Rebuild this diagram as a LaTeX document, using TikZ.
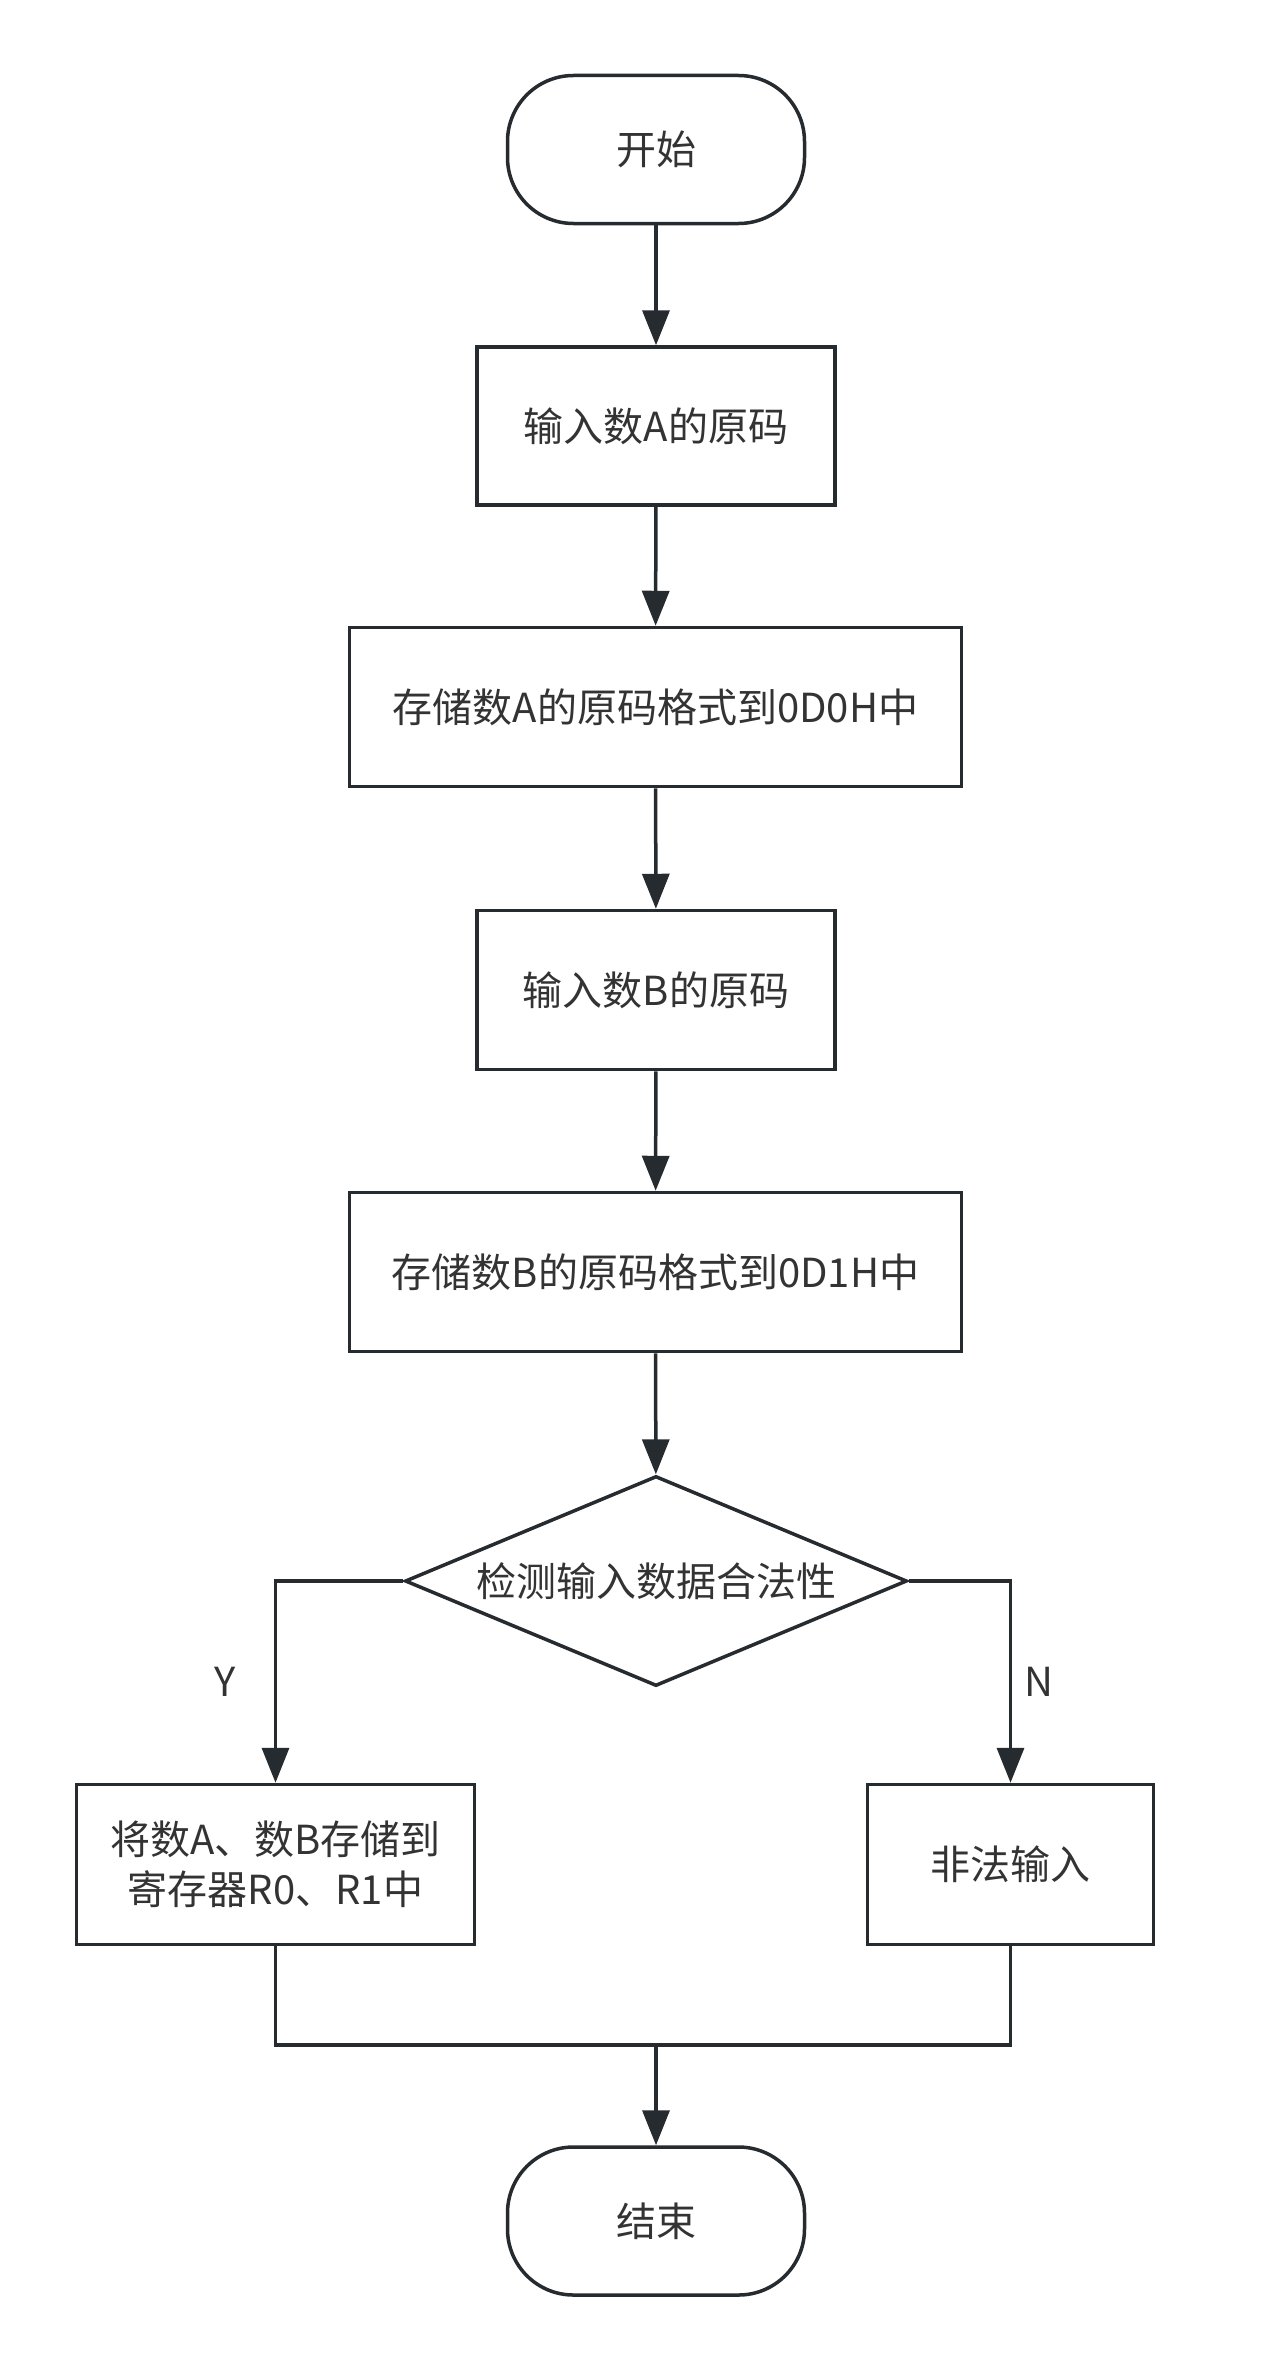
\documentclass[tikz,border=0pt]{standalone}
\usepackage{fontspec}
\setmainfont{Noto Sans CJK SC}
\usetikzlibrary{shapes.geometric,arrows.meta}
\definecolor{lc}{RGB}{38,43,48}
\definecolor{tc}{RGB}{51,51,51}
\begin{document}
\begin{tikzpicture}[x=1pt,y=1pt,
  every node/.style={text=tc,font=\fontsize{40pt}{50pt}\selectfont},
  base/.style={draw=lc,line width=3.5pt,fill=white,inner sep=0pt,align=center},
  term/.style={base,rounded corners=66pt,minimum width=297pt,minimum height=148pt},
  proc/.style={base,rectangle},
  dec/.style={base,diamond,aspect=2.4,minimum width=502pt,minimum height=210pt},
  conn/.style={draw=lc,line width=3.5pt},
  arr/.style={conn,-{Triangle[length=35pt,width=27pt]}},
  lbl/.style={text=tc}]
\useasboundingbox[fill=white] (0,0) rectangle (1264,-2371);
\node[term] (start) at (656,-149.5) {\raisebox{-3pt}{开始}};
\node[proc,minimum width=358pt,minimum height=158pt] (a) at (656,-426) {\raisebox{-3pt}{输入数A的原码}};
\node[proc,minimum width=612pt,minimum height=159pt] (sa) at (655.5,-707) {\raisebox{-3pt}{存储数A的原码格式到0D0H中}};
\node[proc,minimum width=358pt,minimum height=159pt] (b) at (656,-990) {\raisebox{-3pt}{输入数B的原码}};
\node[proc,minimum width=612pt,minimum height=159pt] (sb) at (655.5,-1272) {\raisebox{-3pt}{存储数B的原码格式到0D1H中}};
\node[dec] (chk) at (656,-1581) {\raisebox{-3pt}{检测输入数据合法性}};
\node[proc,minimum width=398pt,minimum height=160pt] (ok) at (275.5,-1864.5) {将数A、数B存储到\\寄存器R0、R1中};
\node[proc,minimum width=286pt,minimum height=160pt] (bad) at (1010.5,-1864.5) {\raisebox{-3pt}{非法输入}};
\node[term] (stop) at (656,-2221) {\raisebox{-3pt}{结束}};
\coordinate (merge) at (656,-2045);
\draw[arr] (start) -- (a);
\draw[arr] (a) -- (sa);
\draw[arr] (sa) -- (b);
\draw[arr] (b) -- (sb);
\draw[arr] (sb) -- (chk);
\draw[arr] (chk.west) -| (ok.north);
\draw[arr] (chk.east) -| (bad.north);
\draw[conn] (ok.south) |- (merge) -| (bad.south);
\draw[arr] (merge) -- (stop.north);
\node[lbl] (y) at (225,-1682) {Y};
\node[lbl] (n) at (1039,-1682) {N};
\end{tikzpicture}
\end{document}
